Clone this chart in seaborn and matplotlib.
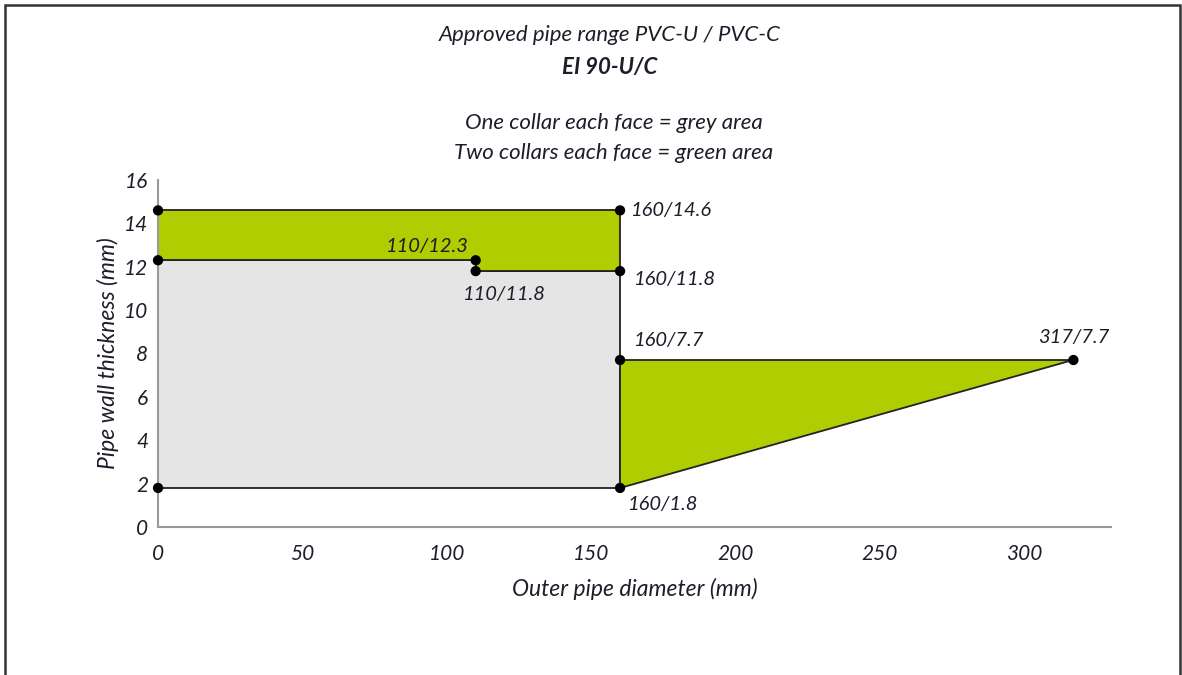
import matplotlib
matplotlib.use('Agg')
import matplotlib.pyplot as plt
import seaborn as sns
import pandas as pd
from matplotlib.patches import Rectangle

# approved areas (outer diameter mm / wall thickness mm)
grey_x = [0, 160, 160, 110, 110, 0]
grey_y = [1.8, 1.8, 11.8, 11.8, 12.3, 12.3]
green_top_x = [0, 110, 110, 160, 160, 0]
green_top_y = [12.3, 12.3, 11.8, 11.8, 14.6, 14.6]
green_tri_x = [160, 160, 317]
green_tri_y = [1.8, 7.7, 7.7]

pt_x = [0, 0, 0, 110, 110, 160, 160, 160, 160, 317]
pt_y = [14.6, 12.3, 1.8, 12.3, 11.8, 14.6, 11.8, 7.7, 1.8, 7.7]

lbl_d = [110, 110, 160, 160, 160, 160, 317]
lbl_t = [12.3, 11.8, 14.6, 11.8, 7.7, 1.8, 7.7]

x_ticks = [0, 50, 100, 150, 200, 250, 300]
y_ticks = [0, 2, 4, 6, 8, 10, 12, 14, 16]

sns.set_theme(style='white')
plt.rcParams['font.family'] = ['Lato', 'DejaVu Sans']
txt = '#1e1e2a'
green = '#afcd00'
grey = '#e5e5e5'

fig = plt.figure(figsize=(11.82, 6.75), dpi=100)
ax = fig.add_axes([0.1337, 0.2193, 0.9399 - 0.1337, 0.514])

ax.fill(grey_x, grey_y, facecolor=grey, edgecolor='#222222', lw=1.3, zorder=2)
ax.fill(green_top_x, green_top_y, facecolor=green, edgecolor='#222222', lw=1.3, zorder=2)
ax.fill(green_tri_x, green_tri_y, facecolor=green, edgecolor='#222222', lw=1.3, zorder=2)

pts = pd.DataFrame({'d': pt_x, 't': pt_y})
sns.scatterplot(data=pts, x='d', y='t', color='black', s=55, edgecolor='none',
                zorder=4, ax=ax, clip_on=False)

# point labels
offsets = [(-5, 4, 'right', 'bottom'), (21, -11, 'center', 'top'),
           (8, 0, 'left', 'center'), (10, -6, 'left', 'center'),
           (10, 8, 'left', 'bottom'), (6, -6, 'left', 'top'),
           (0, 10, 'center', 'bottom')]
for d, t, (dx, dy, ha, va) in zip(lbl_d, lbl_t, offsets):
    ax.annotate(f'{d}/{t}', (d, t), xytext=(dx, dy), textcoords='offset points',
                ha=ha, va=va, fontsize=14.5, style='italic', color=txt)

ax.set_xlim(0, 330)
ax.set_ylim(0, 16)
ax.set_xticks(x_ticks)
ax.set_yticks(y_ticks)
ax.tick_params(length=0, labelsize=15, labelcolor=txt)
ax.tick_params(axis='x', pad=12)
ax.tick_params(axis='y', pad=7)
for lab in ax.get_xticklabels() + ax.get_yticklabels():
    lab.set_style('italic')
for s in ['top', 'right']:
    ax.spines[s].set_visible(False)
for s in ['left', 'bottom']:
    ax.spines[s].set_color('#999999')
    ax.spines[s].set_linewidth(1.5)
ax.set_xlabel('Outer pipe diameter (mm)', fontsize=16.5, style='italic', color=txt, labelpad=10)
ax.set_ylabel('Pipe wall thickness (mm)', fontsize=16.5, style='italic', color=txt, labelpad=4)

fig.text(0.516, 0.948, 'Approved pipe range PVC-U / PVC-C', ha='center', va='center',
         fontsize=16, style='italic', color=txt)
fig.text(0.516, 0.900, 'EI 90-U/C', ha='center', va='center',
         fontsize=16, style='italic', weight='bold', color=txt)
fig.text(0.519, 0.818, 'One collar each face = grey area', ha='center', va='center',
         fontsize=16, style='italic', color=txt)
fig.text(0.519, 0.774, 'Two collars each face = green area', ha='center', va='center',
         fontsize=16, style='italic', color=txt)

# outer frame
fig.patches.append(Rectangle((0.0045, -0.05), 0.9935, 1.043, transform=fig.transFigure,
                             fill=False, edgecolor='#333333', lw=1.8))

fig.savefig('out.png', dpi=100)
